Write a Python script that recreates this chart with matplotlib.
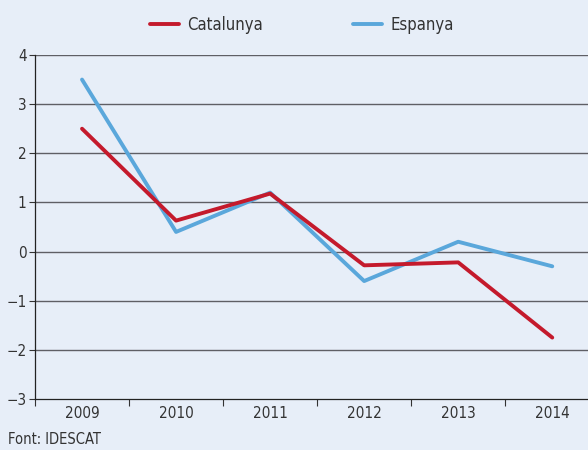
import matplotlib
matplotlib.use("Agg")
import matplotlib.pyplot as plt

years = ["2009", "2010", "2011", "2012", "2013", "2014"]
catalunya = [2.5, 0.63, 1.18, -0.28, -0.22, -1.75]
espanya = [3.5, 0.4, 1.2, -0.6, 0.2, -0.3]
yticks = [-3, -2, -1, 0, 1, 2, 3, 4]

plt.rcParams['font.family'] = ['DejaVu Sans']
plt.rcParams['font.stretch'] = 'condensed'

bg = '#e7eef8'
fig = plt.figure(figsize=(5.88, 4.5), dpi=100, facecolor=bg)
ax = fig.add_axes([35 / 588, 51 / 450, 1 - 35 / 588, 344 / 450], facecolor=bg)

x = list(range(len(years)))
ax.plot(x, espanya, color='#5aa7db', lw=2.8, label='Espanya', solid_capstyle='round', zorder=3)
ax.plot(x, catalunya, color='#c41a2c', lw=2.8, label='Catalunya', solid_capstyle='round', zorder=4)

ax.set_ylim(-3, 4)
ax.set_xlim(-0.5, 5.38)
ax.set_yticks(yticks)
ax.set_yticklabels([str(v).replace('-', '\u2212') for v in yticks])
for v in yticks[1:]:
    ax.axhline(v, color='#5f5f65', lw=1.0, zorder=1)

# category boundaries as x ticks, labels centred in each band
ax.set_xticks([i - 0.5 for i in range(len(years))])
ax.set_xticklabels([])
ax.set_xticks(x, minor=True)
ax.set_xticklabels(years, minor=True)
ax.tick_params(axis='x', which='major', length=5, width=0.8, color='#333333', direction='out')
ax.tick_params(axis='x', which='minor', length=0, pad=5, labelsize=11, labelcolor='#333333')
ax.tick_params(axis='y', length=4, width=0.8, color='#333333', labelsize=11, labelcolor='#333333', pad=2)

for s in ['top', 'right']:
    ax.spines[s].set_visible(False)
ax.spines['left'].set_color('#222222')
ax.spines['bottom'].set_color('#222222')
ax.spines['left'].set_linewidth(0.9)
ax.spines['bottom'].set_linewidth(0.9)

handles, labels = ax.get_legend_handles_labels()
fig.legend(handles[::-1], labels[::-1], loc='center', bbox_to_anchor=(302 / 588, 0.944), ncol=2,
           frameon=False, fontsize=12, handlelength=1.75, handletextpad=0.5,
           columnspacing=5.4, labelcolor='#333333')

fig.text(8 / 588, 10 / 450, 'Font: IDESCAT', fontsize=10.5, color='#333333', va='center')

fig.savefig('out.png', dpi=100, facecolor=bg)
